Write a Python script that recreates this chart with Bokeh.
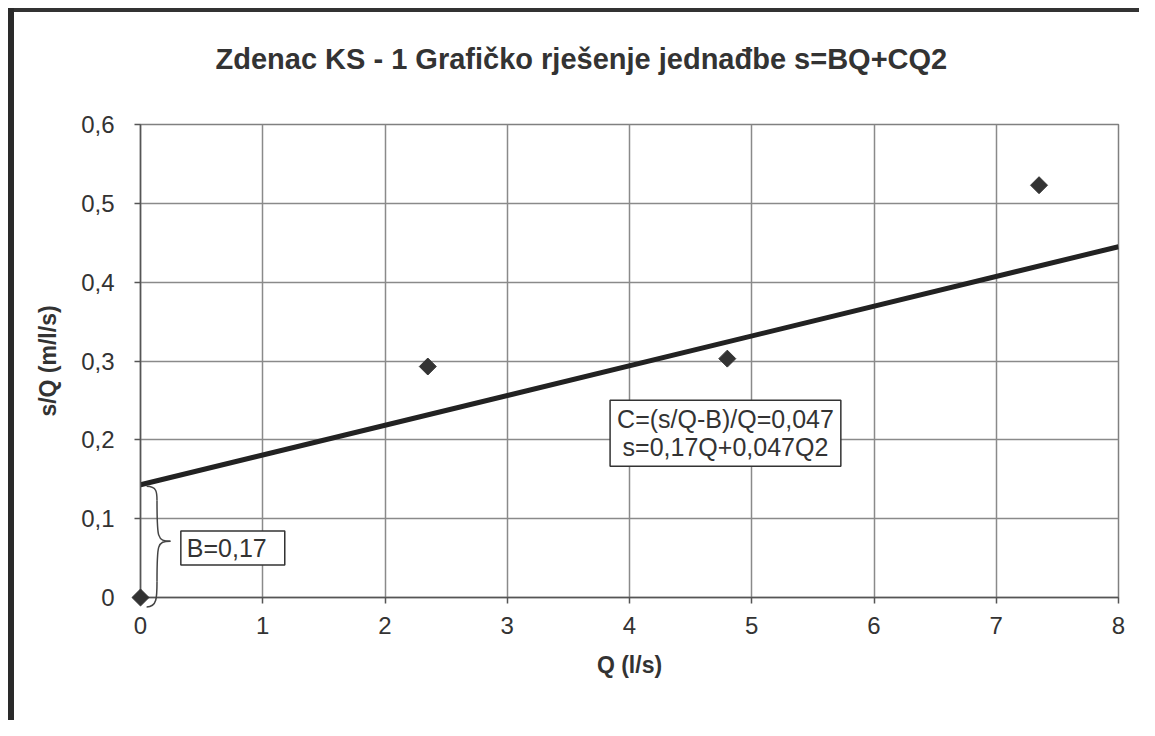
from bokeh.plotting import figure
from bokeh.models import Label, FixedTicker, Title
from bokeh.embed import file_html
from bokeh.resources import INLINE
import math

# data
Q = [0.0, 2.35, 4.8, 7.35]
sQ = [0.0, 0.293, 0.303, 0.523]
fit_x = [0.0, 8.0]
fit_y = [0.143, 0.445]
x_ticks = [0, 1, 2, 3, 4, 5, 6, 7, 8]
y_ticks = [0.0, 0.1, 0.2, 0.3, 0.4, 0.5, 0.6]
y_labels = ["0", "0,1", "0,2", "0,3", "0,4", "0,5", "0,6"]
title_text = "Zdenac KS - 1 Grafičko rješenje jednađbe s=BQ+CQ2"
b_text = "B=0,17"
c_text = "C=(s/Q-B)/Q=0,047\ns=0,17Q+0,047Q2"

FONT = "Liberation Sans"

p = figure(width=1139, height=720, output_backend="svg", toolbar_location=None,
           x_range=(0, 8), y_range=(0, 0.6),
           min_border_left=140, min_border_right=21, min_border_top=124,
           min_border_bottom=123)
p.styles = {
    "background": "linear-gradient(#2a2a2a,#2a2a2a) 8px 8px / 6px 712px no-repeat, "
                  "linear-gradient(#333,#333) 8px 8px / 1131px 4px no-repeat, white",
}
p.border_fill_alpha = 0.0

p.add_layout(Title(text=" ", text_font_size="30px"), "above")
p.title.text = title_text
p.title.align = "left"
p.title.offset = 75
p.title.text_font = FONT
p.title.text_font_size = "29px"
p.title.text_font_style = "bold"
p.title.text_color = "#333333"

p.outline_line_color = "#808080"
p.outline_line_width = 1.5
p.background_fill_color = "white"

for g in (p.xgrid, p.ygrid):
    g.grid_line_color = "#8a8a8a"
    g.grid_line_width = 1.5
p.xgrid.ticker = FixedTicker(ticks=x_ticks)
p.ygrid.ticker = FixedTicker(ticks=y_ticks)

p.xaxis.ticker = FixedTicker(ticks=x_ticks)
p.yaxis.ticker = FixedTicker(ticks=y_ticks)
p.yaxis.major_label_overrides = {t: l for t, l in zip(y_ticks, y_labels)}

for ax in (p.xaxis, p.yaxis):
    ax.axis_line_color = "#555555"
    ax.axis_line_width = 1.5
    ax.major_tick_line_color = "#555555"
    ax.major_tick_line_width = 1.5
    ax.major_tick_in = 0
    ax.major_tick_out = 6
    ax.minor_tick_line_color = None
    ax.major_label_text_font = FONT
    ax.major_label_text_font_size = "24px"
    ax.major_label_text_color = "#333333"
    ax.axis_label_text_font = FONT
    ax.axis_label_text_font_size = "23px"
    ax.axis_label_text_font_style = "bold"
    ax.axis_label_text_color = "#333333"

p.xaxis.axis_label = "Q (l/s)"
p.yaxis.axis_label = "s/Q (m/l/s)"
p.xaxis.major_label_standoff = 13
p.xaxis.axis_label_standoff = 15
p.yaxis.major_label_standoff = 20
p.yaxis.axis_label_standoff = 17

p.line(fit_x, fit_y, line_color="#222222", line_width=5)
p.scatter(Q, sQ, marker="square", angle=math.pi / 4, size=12,
          fill_color="#333333", line_color="#333333", level="overlay")

# brace from y=0 to line intercept
b0 = fit_y[0]
mid = b0 / 2
xb = 0.135
xl = 0.05
xt = 0.245
p.bezier(x0=[xl, xb, xl, xb], y0=[b0 - 0.002, b0 - 0.02, -0.012, 0.02],
         x1=[xb, xt, xb, xt], y1=[b0 - 0.02, mid, 0.02, mid],
         cx0=[xb, xb, xb, xb], cy0=[b0 - 0.002, mid + 0.004, -0.012, mid - 0.004],
         cx1=[xb, xb, xb, xb], cy1=[b0 - 0.01, mid, 0.0, mid],
         line_color="#444444", line_width=1.5, level="overlay")

lb = Label(x=0.33, y=0.0628, text=b_text, text_font=FONT, text_font_size="25px",
           text_color="#333333", text_baseline="middle", text_align="left",
           border_line_color="#333333", border_line_width=1.5,
           background_fill_color="white",
           padding=dict(left=6, right=18, top=3, bottom=3))
p.add_layout(lb)

lc = Label(x=4.785, y=0.2085, text=c_text, text_font=FONT, text_font_size="25px",
           text_color="#333333", text_baseline="middle", text_align="center",
           text_line_height=1.0,
           border_line_color="#333333", border_line_width=1.5,
           background_fill_color="white",
           padding=dict(left=7, right=7, top=5, bottom=5))
p.add_layout(lc)

open("out.html", "w").write(file_html(p, INLINE))
